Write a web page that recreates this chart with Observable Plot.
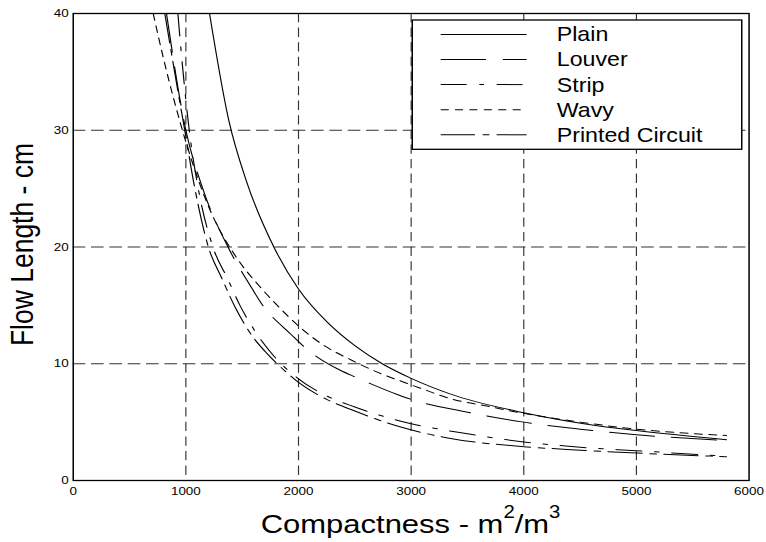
<!DOCTYPE html>
<html><head><meta charset="utf-8">
<script src="https://cdn.jsdelivr.net/npm/d3@7"></script>
<script src="https://cdn.jsdelivr.net/npm/@observablehq/plot@0.6"></script>
<style>
html,body{margin:0;padding:0;background:#fff;}
#chart{width:766px;height:542px;overflow:hidden;}
</style>
</head><body><div id="chart"></div>
<script>
// ---- data ----
const seriesNames = ["Plain", "Louver", "Strip", "Wavy", "Printed Circuit"];

const plainX = [1210, 1382, 1539, 1781, 2000, 2255, 2500, 2743, 3000, 3351, 4000, 4683, 5000, 5800];
const plainY = [40, 30.8, 25.6, 20, 16.4, 13.56, 11.55, 10, 8.75, 7.4, 5.8, 4.65, 4.28, 3.49];

const louverX = [828, 1000, 1150, 1382, 1589, 1663, 1944, 2046, 2375, 2507, 2877, 3000, 3500, 4000, 4500, 5000, 5800];
const louverY = [40, 30, 25, 19.85, 16.42, 15.27, 12.42, 11.48, 9.42, 8.85, 7.37, 6.95, 5.85, 5.0, 4.4, 3.92, 3.42];

const stripX = [929, 975, 1030, 1110, 1240, 1370, 1480, 1620, 1760, 2000, 2250, 2500, 2900, 3500, 4000, 4500, 5000, 5800];
const stripY = [40, 35, 30, 25, 20, 17.3, 15.0, 12.7, 10.9, 8.7, 7.25, 6.3, 5.1, 4.0, 3.3, 2.85, 2.55, 2.08];

const wavyX = [710, 800, 900, 1000, 1200, 1456, 1648, 1841, 2018, 2240, 2477, 2699, 2935, 3085, 3351, 3646, 4000, 4500, 5000, 5800];
const wavyY = [40, 36.2, 32.4, 29.0, 23.5, 19, 16.7, 14.71, 13.08, 11.48, 10.28, 9.28, 8.42, 7.9, 7.0, 6.42, 5.75, 5.0, 4.4, 3.85];

const pcX = [813, 900, 990, 1080, 1200, 1320, 1440, 1580, 1723, 1800, 2000, 2250, 2500, 2900, 3350, 4000, 4500, 5000, 5800];
const pcY = [40, 35, 30, 25, 20, 17.3, 14.8, 12.5, 10.85, 10.1, 8.4, 6.95, 5.95, 4.6, 3.6, 2.9, 2.6, 2.35, 2.04];

const xTicks = [0, 1000, 2000, 3000, 4000, 5000, 6000];
const yTicks = [0, 10, 20, 30, 40];
const xGrid = [1000, 2000, 3000, 4000, 5000];
const yGrid = [10, 20, 30];

const xTitle = ["Compactness - m", "2", "/m", "3"];
const yTitle = "Flow Length - cm";

// ---- build table ----
const seriesXs = [plainX, louverX, stripX, wavyX, pcX];
const seriesYs = [plainY, louverY, stripY, wavyY, pcY];
const rows = [];
seriesNames.forEach((name, i) => {
  seriesXs[i].forEach((x, j) => rows.push({series: name, x, y: seriesYs[i][j]}));
});

// ---- styles (render space; image is stretched horizontally) ----
const dashOf = {
  "Plain": null,
  "Louver": "39,14.5",
  "Strip": "22.4,10.9,4,10.9",
  "Wavy": "6.9,5.5",
  "Printed Circuit": "29.6,6.6,5.7,6.3"
};
const W = 660, H = 542, OUTW = 766;
const FONT = "'Liberation Sans', Arial, Helvetica, sans-serif";

const lineMarks = seriesNames.map(name =>
  Plot.line(rows.filter(r => r.series === name), {
    x: "x", y: "y", curve: "monotone-x",
    stroke: "#000", strokeWidth: 1,
    strokeDasharray: dashOf[name] || undefined
  })
);

const plot = Plot.plot({
  width: W, height: H,
  marginLeft: 62.6, marginRight: 15.1, marginTop: 13, marginBottom: 62,
  x: {domain: [0, 6000]},
  y: {domain: [0, 40]},
  style: {fontFamily: FONT, fontSize: "11.6px", color: "#000", background: "#fff"},
  marks: [
    Plot.ruleX(xGrid, {stroke: "#333", strokeWidth: 1, strokeDasharray: "9.3,5.3"}),
    Plot.ruleY(yGrid, {stroke: "#333", strokeWidth: 1, strokeDasharray: "10.9,4.9"}),
    ...lineMarks,
    Plot.frame({stroke: "#000", strokeWidth: 1.3}),
    Plot.axisX(xTicks, {tickSize: 0, tickPadding: 6, tickFormat: d => String(d), label: null}),
    Plot.axisY(yTicks, {tickSize: 0, tickPadding: 3.8, tickFormat: d => String(d), label: null})
  ]
});

const svg = d3.select(plot);
svg.attr("width", OUTW).attr("height", H)
   .attr("preserveAspectRatio", "none")
   .style("width", OUTW + "px").style("height", H + "px").style("max-width", "none");

// axis titles
const xs = plot.scale("x"), ys = plot.scale("y");
const cx = (xs.range[0] + xs.range[1]) / 2;
const cy = (ys.range[0] + ys.range[1]) / 2;
const xt = svg.append("text").attr("x", cx).attr("y", 532.7)
  .attr("text-anchor", "middle").attr("fill", "#000")
  .style("font-family", FONT).style("font-size", "26.7px");
xt.append("tspan").text(xTitle[0]);
xt.append("tspan").attr("dy", -15).style("font-size", "17.5px").text(xTitle[1]);
xt.append("tspan").attr("dy", 15).text(xTitle[2]);
xt.append("tspan").attr("dy", -15).style("font-size", "17.5px").text(xTitle[3]);

svg.append("text")
  .attr("transform", `translate(28.7,${cy - 2}) rotate(-90)`)
  .attr("text-anchor", "middle").attr("fill", "#000")
  .style("font-family", FONT).style("font-size", "26.5px")
  .text(yTitle);

// legend
const lg = svg.append("g");
lg.append("rect").attr("x", 355.2).attr("y", 20).attr("width", 283.9).attr("height", 129.3)
  .attr("fill", "#fff").attr("stroke", "#000").attr("stroke-width", 1.3);
seriesNames.forEach((name, i) => {
  const yy = 34.4 + 25.1 * i;
  const ln = lg.append("line").attr("x1", 379.7).attr("x2", 453.8).attr("y1", yy).attr("y2", yy)
    .attr("stroke", "#000").attr("stroke-width", 1);
  if (dashOf[name]) ln.attr("stroke-dasharray", dashOf[name]);
  lg.append("text").attr("x", 479.7).attr("y", yy + 7).attr("fill", "#000")
    .attr("text-anchor", "start")
    .style("font-family", FONT).style("font-size", "20px").text(name);
});

document.getElementById("chart").appendChild(plot);
</script>
</body></html>
